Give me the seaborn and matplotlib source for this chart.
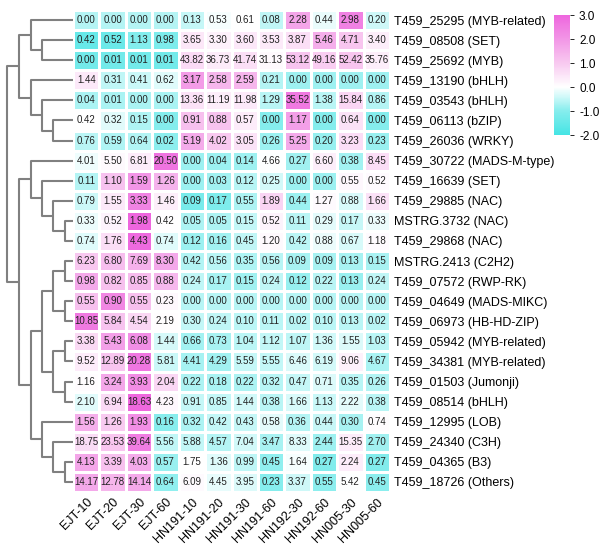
import numpy as np
import pandas as pd
import seaborn as sns
import matplotlib.pyplot as plt
from matplotlib.colors import LinearSegmentedColormap

samples = ['EJT-10', 'EJT-20', 'EJT-30', 'EJT-60', 'HN191-10', 'HN191-20',
           'HN191-30', 'HN191-60', 'HN192-30', 'HN192-60', 'HN005-30', 'HN005-60']

genes = ['T459_25295 (MYB-related)', 'T459_08508 (SET)', 'T459_25692 (MYB)',
         'T459_13190 (bHLH)', 'T459_03543 (bHLH)', 'T459_06113 (bZIP)',
         'T459_26036 (WRKY)', 'T459_30722 (MADS-M-type)', 'T459_16639 (SET)',
         'T459_29885 (NAC)', 'MSTRG.3732 (NAC)', 'T459_29868 (NAC)',
         'MSTRG.2413 (C2H2)', 'T459_07572 (RWP-RK)', 'T459_04649 (MADS-MIKC)',
         'T459_06973 (HB-HD-ZIP)', 'T459_05942 (MYB-related)',
         'T459_34381 (MYB-related)', 'T459_01503 (Jumonji)', 'T459_08514 (bHLH)',
         'T459_12995 (LOB)', 'T459_24340 (C3H)', 'T459_04365 (B3)',
         'T459_18726 (Others)']

# expression values (FPKM) as shown in the cells
fpkm = [
    [0.00, 0.00, 0.00, 0.00, 0.13, 0.53, 0.61, 0.08, 2.28, 0.44, 2.98, 0.20],
    [0.42, 0.52, 1.13, 0.98, 3.65, 3.30, 3.60, 3.53, 3.87, 5.46, 4.71, 3.40],
    [0.00, 0.01, 0.01, 0.01, 43.82, 36.73, 41.74, 31.13, 53.12, 49.16, 52.42, 35.76],
    [1.44, 0.31, 0.41, 0.62, 3.17, 2.58, 2.59, 0.21, 0.00, 0.00, 0.00, 0.00],
    [0.04, 0.01, 0.00, 0.00, 13.36, 11.19, 11.98, 1.29, 35.52, 1.38, 15.84, 0.86],
    [0.42, 0.32, 0.15, 0.00, 0.91, 0.88, 0.57, 0.00, 1.17, 0.00, 0.64, 0.00],
    [0.76, 0.59, 0.64, 0.02, 5.19, 4.02, 3.05, 0.26, 5.25, 0.20, 3.23, 0.23],
    [4.01, 5.50, 6.81, 20.50, 0.00, 0.04, 0.14, 4.66, 0.27, 6.60, 0.38, 8.45],
    [0.11, 1.10, 1.59, 1.26, 0.00, 0.03, 0.12, 0.25, 0.00, 0.00, 0.55, 0.52],
    [0.79, 1.55, 3.33, 1.46, 0.09, 0.17, 0.55, 1.89, 0.44, 1.27, 0.88, 1.66],
    [0.33, 0.52, 1.98, 0.42, 0.05, 0.05, 0.15, 0.52, 0.11, 0.29, 0.17, 0.33],
    [0.74, 1.76, 4.43, 0.74, 0.12, 0.16, 0.45, 1.20, 0.42, 0.88, 0.67, 1.18],
    [6.23, 6.80, 7.69, 8.30, 0.42, 0.56, 0.35, 0.56, 0.09, 0.09, 0.13, 0.15],
    [0.98, 0.82, 0.85, 0.88, 0.24, 0.17, 0.15, 0.24, 0.12, 0.22, 0.13, 0.24],
    [0.55, 0.90, 0.55, 0.23, 0.00, 0.00, 0.00, 0.00, 0.00, 0.00, 0.00, 0.00],
    [10.85, 5.84, 4.54, 2.19, 0.30, 0.24, 0.10, 0.11, 0.02, 0.10, 0.13, 0.02],
    [3.38, 5.43, 6.08, 1.44, 0.66, 0.73, 1.04, 1.12, 1.07, 1.36, 1.55, 1.03],
    [9.52, 12.89, 20.28, 5.81, 4.41, 4.29, 5.59, 5.55, 6.46, 6.19, 9.06, 4.67],
    [1.16, 3.24, 3.93, 2.04, 0.22, 0.18, 0.22, 0.32, 0.47, 0.71, 0.35, 0.26],
    [2.10, 6.94, 18.63, 4.23, 0.91, 0.85, 1.44, 0.38, 1.66, 1.13, 2.22, 0.38],
    [1.56, 1.26, 1.93, 0.16, 0.32, 0.42, 0.43, 0.58, 0.36, 0.44, 0.30, 0.74],
    [18.75, 23.53, 39.64, 5.56, 5.88, 4.57, 7.04, 3.47, 8.33, 2.44, 15.35, 2.70],
    [4.13, 3.39, 4.03, 0.57, 1.75, 1.36, 0.99, 0.45, 1.64, 0.27, 2.24, 0.27],
    [14.17, 12.78, 14.14, 0.64, 6.09, 4.45, 3.95, 0.23, 3.37, 0.55, 5.42, 0.45],
]

# row dendrogram: (merge height, left, right), leaves are row indices
tree = (66,
        (54,
         (42, 0, (31, 1, 2)),
         (42, 3, (31, 4, (20, 5, 6)))),
        (54,
         (42, 7, (31, 8, (20, 9, (8, 10, 11)))),
         (42,
          (31,
           (20, (8, 12, 13), (8, 14, 15)),
           (20, (8, 16, 17), (8, 18, 19))),
          (31, 20, (20, 21, (8, 22, 23))))))

df = pd.DataFrame(fpkm, index=genes, columns=samples)
z = df.sub(df.mean(axis=1), axis=0).div(df.std(axis=1), axis=0)

plt.rcParams['font.family'] = ['Liberation Sans', 'DejaVu Sans']

# colour stops at z = -2, -1, -0.5, 0, 1, 2, 3
cmap = LinearSegmentedColormap.from_list(
    'cw', [(0.0, '#45e4e4'), (0.2, '#86eded'), (0.3, '#c4f7f7'),
           (0.4, '#ffffff'), (0.6, '#f8c9f0'), (0.8, '#f296e6'),
           (1.0, '#ee66de')])

fig = plt.figure(figsize=(6, 5.47), dpi=100)
ax = fig.add_axes([73/600, 1 - 492/547, 317/600, 482/547])
cax = fig.add_axes([554/600, 1 - 135/547, 16/600, 120/547])
dax = fig.add_axes([5/600, 1 - 492/547, 68/600, 482/547])

sns.heatmap(z, ax=ax, cbar_ax=cax, cmap=cmap, vmin=-2, vmax=3,
            annot=df, fmt='.2f', linewidths=1, linecolor='white',
            annot_kws={'size': 7, 'color': '#222222'})

ax.yaxis.tick_right()
ax.set_yticklabels(genes, rotation=0, fontsize=9)
ax.set_xticklabels(samples, rotation=45, ha='right', rotation_mode='anchor',
                   fontsize=9)
ax.tick_params(length=0, pad=3)
ax.set_xlabel('')
ax.set_ylabel('')

cb = ax.collections[0].colorbar
cb.set_ticks([-2, -1, 0, 1, 2, 3])
cb.set_ticklabels(['%.1f' % t for t in [-2, -1, 0, 1, 2, 3]])
cb.ax.tick_params(labelsize=8.5, length=3, width=0.6)
cb.outline.set_visible(False)


def draw(node):
    if isinstance(node, int):
        return node + 0.5, 0
    h, left, right = node
    y1, x1 = draw(left)
    y2, x2 = draw(right)
    dax.plot([x1, h, h, x2], [y1, y1, y2, y2], color='#808080', lw=1.5,
             solid_capstyle='butt')
    return (y1 + y2) / 2, h


draw(tree)
dax.set_xlim(68, 0)
dax.set_ylim(len(genes), 0)
dax.axis('off')

fig.savefig('out.png', dpi=100)
